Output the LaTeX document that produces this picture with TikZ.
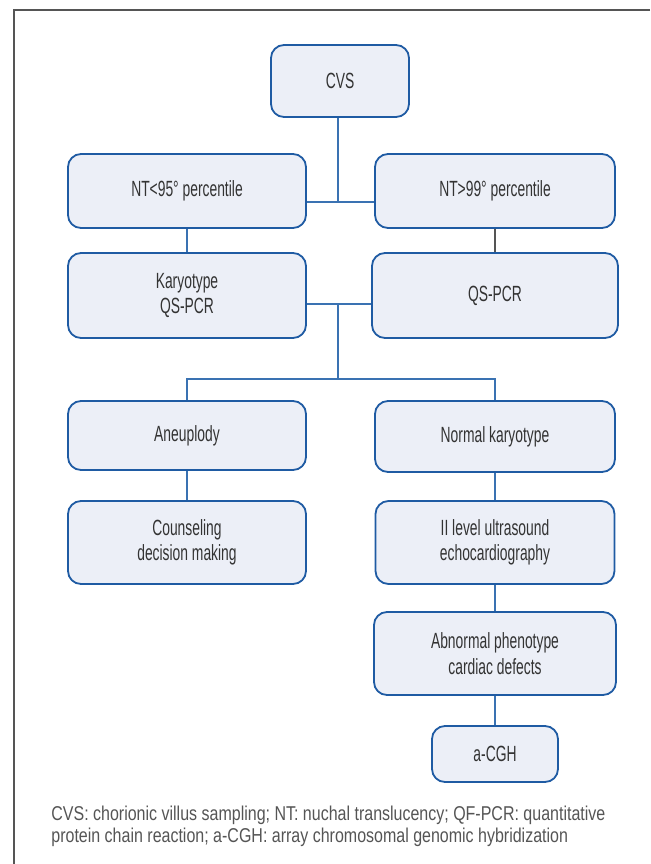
\documentclass[tikz,border=0pt]{standalone}
\usepackage{fontspec}
\setmainfont{Liberation Sans}
\newfontfamily\boxfont[FakeStretch=0.63]{Liberation Sans}
\newfontfamily\notefont[FakeStretch=0.8]{Liberation Sans}
\usetikzlibrary{positioning}
\definecolor{boxfill}{HTML}{ECEFF7}
\definecolor{boxline}{HTML}{1F5BA3}
\definecolor{linkblue}{HTML}{3A72B2}
\definecolor{textgray}{HTML}{333333}
\definecolor{framegray}{HTML}{555555}

\begin{document}
\begin{tikzpicture}[x=0.5pt, y=-0.5pt,
  box/.style={draw=boxline, fill=boxfill, rounded corners=6.5pt,
              line width=0.9pt, text=textgray, align=center, inner sep=0pt,
              font=\boxfont\fontsize{11}{12.8}\selectfont},
  link/.style={draw=linkblue, line width=0.8pt},
  note/.style={font=\notefont\fontsize{10}{10.6}\selectfont, text=framegray,
               align=left, inner sep=0pt, anchor=north west},
]
  \useasboundingbox (0,0) rectangle (650,864);

  % ── Frame ───────────────────────
  \draw[framegray, line width=1pt] (650,10) -- (13.5,10) -- (13.5,864);

  % ── Top levels ──────────────────
  \node[box, minimum width=69pt, minimum height=36pt] (cvs) at (340,81) {CVS};
  \node[box, minimum width=119pt, minimum height=37pt] (ntlow) at (187,191)
        {NT<95° percentile};
  \node[box, minimum width=120pt, minimum height=37pt] (nthigh) at (495,191)
        {NT>99° percentile};
  \node[box, minimum width=119pt, minimum height=42.5pt] (karyo) at (187,295.5)
        {Karyotype\\QS-PCR};
  \node[box, minimum width=123pt, minimum height=42.5pt] (qspcr) at (495,295.5)
        {QS-PCR};

  % ── Results ─────────────────────
  \node[box, minimum width=119pt, minimum height=34.5pt] (aneu) at (187,435.5)
        {Aneuplody};
  \node[box, minimum width=120pt, minimum height=35.5pt] (normal) at (495,436.5)
        {Normal karyotype};
  \node[box, minimum width=119pt, minimum height=41.5pt] (couns) at (187,542.5)
        {Counseling\\decision making};
  \node[box, minimum width=119.5pt, minimum height=41.5pt] (ultra) at (495,542.5)
        {II level ultrasound\\echocardiography};
  \node[box, minimum width=121pt, minimum height=41.5pt] (abnorm) at (495,653.5)
        {Abnormal phenotype\\cardiac defects};
  \node[box, minimum width=63pt, minimum height=28pt] (acgh) at (495,754)
        {a-CGH};

  % ── Connectors ──────────────────
  \coordinate (split1) at (338,202);
  \coordinate (split2) at (338,304);
  \coordinate (split3) at (338,379);
  \draw[link] (cvs.south -| split1) -- (split1);
  \draw[link] (ntlow.east |- split1) -- (nthigh.west |- split1);
  \draw[link] (ntlow) -- (karyo);
  \draw[framegray, line width=0.8pt] (nthigh) -- (qspcr);
  \draw[link] (karyo.east |- split2) -- (qspcr.west |- split2);
  \draw[link] (split2) -- (split3);
  \draw[link] (aneu.north) |- (split3) -| (normal.north);
  \draw[link] (aneu) -- (couns);
  \draw[link] (normal) -- (ultra);
  \draw[link] (ultra) -- (abnorm);
  \draw[link] (abnorm) -- (acgh);

  % ── Legend ──────────────────────
  \node[note] (legend) at (51,806)
        {CVS: chorionic villus sampling; NT: nuchal translucency; QF-PCR: quantitative\\
         protein chain reaction; a-CGH: array chromosomal genomic hybridization};
\end{tikzpicture}
\end{document}
